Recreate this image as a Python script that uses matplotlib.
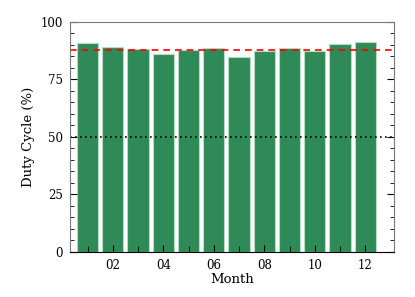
import matplotlib.pyplot as plt
import numpy as np
from matplotlib.ticker import MultipleLocator

# Duty cycle per month (%)
months = np.arange(1, 13)
duty_cycle = [90.9, 89.0, 88.1, 86.1, 87.8, 88.6, 84.6, 87.3, 88.6, 87.5, 90.3, 91.2]
mean_duty = 88.0
month_labels = ['02', '04', '06', '08', '10', '12']

plt.rcParams['font.family'] = 'DejaVu Serif'
plt.rcParams['font.size'] = 8.5

fig = plt.figure(figsize=(4.15, 2.97), dpi=100)
ax = fig.add_axes([0.169, 0.152, 0.78, 0.774])

ax.bar(months, duty_cycle, width=0.84, color='#2e8b57', edgecolor='#b5dcc3', linewidth=0.8)

ax.axhline(mean_duty, color='red', linestyle=(0, (4, 3)), linewidth=1.2)
ax.axhline(50, color='black', linestyle=(0, (1, 2)), linewidth=1.2)

ax.set_xlim(0.31, 13.13)
ax.set_ylim(0, 100)
ax.set_xticks(months, minor=True)
ax.set_xticks([2, 4, 6, 8, 10, 12])
ax.set_xticklabels(month_labels)
ax.yaxis.set_major_locator(MultipleLocator(25))
ax.yaxis.set_minor_locator(MultipleLocator(5))

ax.tick_params(which='both', direction='in', right=True, top=False, pad=5)
ax.tick_params(which='major', length=5)
ax.tick_params(which='minor', length=3)
ax.tick_params(axis='x', which='minor', length=4)

for side in ['top', 'right', 'left']:
    ax.spines[side].set_color('#777777')
ax.spines['bottom'].set_color('black')

ax.set_xlabel('Month', fontsize=9.5, labelpad=1)
ax.set_ylabel('Duty Cycle (%)', fontsize=9.5, labelpad=4)

plt.savefig('out.png', dpi=100)
